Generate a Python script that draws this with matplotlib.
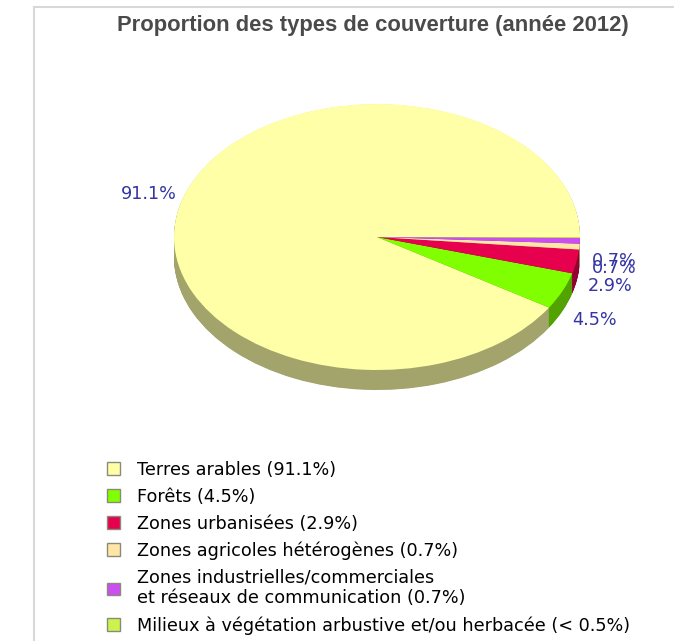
import matplotlib
matplotlib.use("Agg")
import matplotlib.pyplot as plt
from matplotlib.patches import Patch
from matplotlib.lines import Line2D
import numpy as np

# ---- data ----
categories = [
    "Terres arables (91.1%)",
    "Forêts (4.5%)",
    "Zones urbanisées (2.9%)",
    "Zones agricoles hétérogènes (0.7%)",
    "Zones industrielles/commerciales\net réseaux de communication (0.7%)",
    "Milieux à végétation arbustive et/ou herbacée (< 0.5%)",
]
values = [91.1, 4.5, 2.9, 0.7, 0.7, 0.1]
pct_labels = ["91.1%", "4.5%", "2.9%", "0.7%", "0.7%", ""]
colors = ["#FFFFA8", "#80FF00", "#E6004D", "#FFE6A6", "#CC4DF2", "#CCF24D"]
title = "Proportion des types de couverture (année 2012)"

W, H = 674, 641
DPI = 100
fig = plt.figure(figsize=(W / DPI, H / DPI), dpi=DPI)
fig.patch.set_facecolor("white")

# frame lines (light grey)
fig.add_artist(Line2D([34 / W, 34 / W], [0, 1 - 7 / H], color="#d8d8d8", lw=1.5))
fig.add_artist(Line2D([34 / W, 1], [1 - 7 / H, 1 - 7 / H], color="#d8d8d8", lw=1.5))

ax = fig.add_axes([0, 0, 1, 1])
cx, cy = 377, 237      # pixel centre of ellipse
rx, ry = 203, 133      # pixel radii
depth_px = 20
depth = depth_px / ry

def darker(c, f=0.64):
    rgb = np.array(matplotlib.colors.to_rgb(c))
    return tuple(rgb * f)

shadow_colors = [darker(c) for c in colors]
n_layers = 40
for k in range(n_layers, 0, -1):
    ax.pie(values, colors=shadow_colors, startangle=0, counterclock=True,
           center=(0, -depth * k / n_layers), radius=1,
           wedgeprops=dict(linewidth=0))
wedges, _ = ax.pie(values, colors=colors, startangle=0, counterclock=True,
                   center=(0, 0), radius=1, wedgeprops=dict(linewidth=0))

# percentage labels
for w, lab in zip(wedges, pct_labels):
    if not lab:
        continue
    mid = np.deg2rad((w.theta1 + w.theta2) / 2)
    r = 1.17
    x = r * np.cos(mid)
    y = r * np.sin(mid)
    if np.sin(mid) < 0:
        y -= depth
    ax.text(x, y, lab, ha="center", va="center", color="#3434a4",
            fontsize=12.7, family="DejaVu Sans")

ax.set_aspect("auto")
ax.set_xlim(-cx / rx, (W - cx) / rx)
ax.set_ylim((cy - H) / ry, cy / ry)
ax.axis("off")

fig.text(373 / W, 1 - 26 / H, title, ha="center", va="center",
         fontsize=15.8, fontweight="bold", color="#4a4a4a",
         family="Liberation Sans")

handles = [Patch(facecolor=c, edgecolor="#8a8a7a", linewidth=1.0) for c in colors]
fig.legend(handles, categories, loc="upper left",
           bbox_to_anchor=(91 / W, 1 - 445 / H), frameon=False,
           handlelength=0.72, handleheight=0.72,
           handletextpad=1.0, labelspacing=0.5,
           prop={"family": "DejaVu Sans", "size": 12.7})

fig.savefig("out.png", dpi=DPI, facecolor="white")
